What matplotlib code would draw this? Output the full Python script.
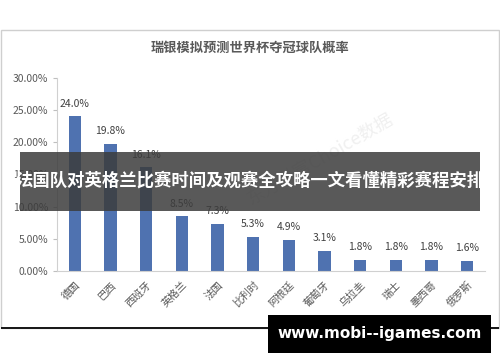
import matplotlib
matplotlib.use('Agg')
import matplotlib.pyplot as plt
from matplotlib.patches import Rectangle
from matplotlib.ticker import FuncFormatter

plt.rcParams['font.family'] = ['Noto Sans CJK SC', 'DejaVu Sans']

# dados
times = ['德国', '巴西', '西班牙', '英格兰', '法国', '比利时', '阿根廷',
         '葡萄牙', '乌拉圭', '瑞士', '墨西哥', '俄罗斯']
prob = [24.0, 19.8, 16.1, 8.5, 7.3, 5.3, 4.9, 3.1, 1.8, 1.8, 1.8, 1.6]
yticks = [0, 5, 10, 15, 20, 25, 30]

fig = plt.figure(figsize=(5, 3.62), dpi=100)
ax = fig.add_axes([0.114, 0.251, 0.856, 0.534])

x = range(len(times))
ax.bar(x, prob, width=0.34, color='#4f72b0', zorder=2)
for i, v in zip(x, prob):
    ax.text(i, v + 1.2, f'{v:.1f}%', ha='center', va='bottom', fontsize=7.5,
            color='#404040')

ax.set_xlim(-0.5, len(times) - 0.5)
ax.set_ylim(0, 30)
ax.set_yticks(yticks)
ax.yaxis.set_major_formatter(FuncFormatter(lambda v, p: f'{v:.2f}%'))
ax.set_xticks(list(x))
ax.set_xticklabels(times, rotation=45, ha='right', rotation_mode='anchor',
                   fontsize=7.5, color='#595959')
ax.tick_params(axis='y', labelsize=7.5, labelcolor='#595959', length=3,
               color='#bfbfbf')
ax.tick_params(axis='x', length=0, pad=6)
for s in ['top', 'right']:
    ax.spines[s].set_visible(False)
ax.spines['left'].set_color('#d0d0d0')
ax.spines['bottom'].set_color('#d0d0d0')

fig.text(0.5, 0.868, '瑞银模拟预测世界杯夺冠球队概率', ha='center', va='center',
         fontsize=9.5, color='#595959', fontweight='bold')

# marca d'agua
fig.text(0.64, 0.56, '东方财富Choice数据', ha='center', va='center', fontsize=13,
         color='#f0f0f0', rotation=30, zorder=0)

# moldura do grafico
fig.patches.append(Rectangle((0.002, 0.094), 0.996, 0.823, transform=fig.transFigure,
                             fill=False, edgecolor='#cfcfcf', linewidth=1))
fig.patches.append(Rectangle((0.002, 0.092), 0.996, 0.004, transform=fig.transFigure,
                             facecolor='#1a1a1a', edgecolor='none'))

# faixa com titulo
fig.patches.append(Rectangle((0.04, 0.417), 0.92, 0.163, transform=fig.transFigure,
                             facecolor='#3c3c3c', alpha=0.85, edgecolor='none', zorder=5))
fig.text(0.5, 0.5, '法国队对英格兰比赛时间及观赛全攻略一文看懂精彩赛程安排',
         ha='center', va='center', fontsize=12.5, color='white',
         fontweight='bold', zorder=6)

# caixa do site
fig.patches.append(Rectangle((0.536, 0.025), 0.446, 0.105, transform=fig.transFigure,
                             facecolor='black', edgecolor='none', zorder=5))
fig.text(0.759, 0.0775, 'www.mobi--igames.com', ha='center', va='center',
         fontsize=11, color='white', fontweight='bold', family='DejaVu Sans', zorder=6)

plt.savefig('out.png', dpi=100)
